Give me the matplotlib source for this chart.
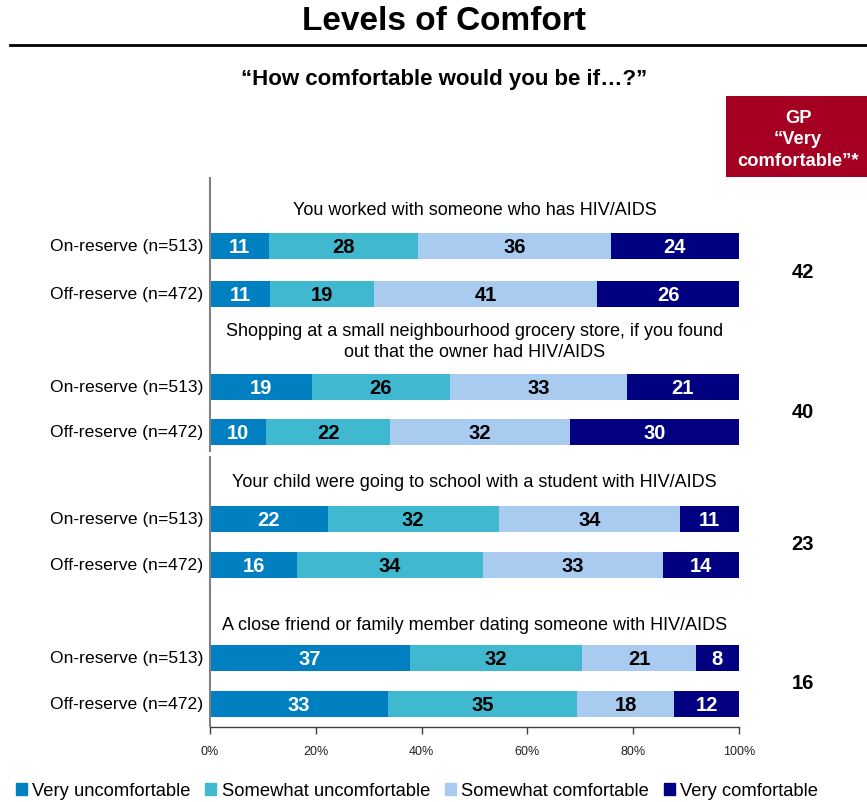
import matplotlib
matplotlib.use("Agg")
import matplotlib.pyplot as plt
import matplotlib.patches as mpatches
import numpy as np

plt.rcParams['font.family'] = ['Liberation Sans', 'DejaVu Sans']

categories = ["Very uncomfortable", "Somewhat uncomfortable", "Somewhat comfortable", "Very comfortable"]
colors = ["#0080C0", "#40B8D0", "#A8CBEF", "#000080"]
text_colors = ["white", "black", "black", "white"]

groups = [
    "You worked with someone who has HIV/AIDS",
    "Shopping at a small neighbourhood grocery store, if you found\nout that the owner had HIV/AIDS",
    "Your child were going to school with a student with HIV/AIDS",
    "A close friend or family member dating someone with HIV/AIDS",
]
row_labels = ["On-reserve (n=513)", "Off-reserve (n=472)"]

on_reserve = [
    [11, 28, 36, 24],
    [19, 26, 33, 21],
    [22, 32, 34, 11],
    [37, 32, 21, 8],
]
off_reserve = [
    [11, 19, 41, 26],
    [10, 22, 32, 30],
    [16, 34, 33, 14],
    [33, 35, 18, 12],
]
gp_very = [42, 40, 23, 16]
xticks = [0, 20, 40, 60, 80, 100]

# layout (pixel-based positions)
W, H = 867, 803
bar_y = [(247, 295), (388, 433), (520, 566), (659, 705)]
label_y = [211, 342, 483, 626]
bar_h = 26

fig = plt.figure(figsize=(W / 100, H / 100), dpi=100)
ax_l, ax_r, ax_t, ax_b = 210, 739, 178, 728
ax = fig.add_axes([ax_l / W, 1 - ax_b / H, (ax_r - ax_l) / W, (ax_b - ax_t) / H])
ax.set_xlim(0, 100)
ax.set_ylim(ax_b, ax_t)

for g in range(4):
    for r, vals in enumerate([on_reserve[g], off_reserve[g]]):
        y = bar_y[g][r]
        vals = np.array(vals, dtype=float)
        widths = vals / vals.sum() * 100
        left = 0
        for i, (v, w) in enumerate(zip(vals, widths)):
            ax.barh(y, w, left=left, height=bar_h, color=colors[i], edgecolor='none')
            ax.text(left + w / 2, y + 1, f"{int(v)}", ha='center', va='center',
                    fontsize=14.5, fontweight='bold', color=text_colors[i])
            left += w
        ax.text(-1.3, y, row_labels[r], ha='right', va='center', fontsize=12.6, color='black')
    ax.text(50, label_y[g], groups[g], ha='center', va='center', fontsize=13,
            color='black', linespacing=1.25)
    gy = (bar_y[g][0] + bar_y[g][1]) / 2 + 2
    ax.text(112, gy, f"{gp_very[g]}", ha='center', va='center', fontsize=14.5,
            fontweight='bold', color='black', clip_on=False)

for s in ['top', 'right', 'left']:
    ax.spines[s].set_visible(False)
ax.spines['bottom'].set_color('#404040')
ax.spines['bottom'].set_linewidth(1.0)
ax.vlines(0, ax_t, 453, color='#808080', lw=1.5, clip_on=False)
ax.vlines(0, 457, ax_b, color='#808080', lw=1.5, clip_on=False)
ax.set_yticks([])
ax.set_xticks(xticks)
ax.set_xticklabels([f"{t}%" for t in xticks], fontsize=9, color='#222222')
ax.tick_params(axis='x', direction='out', length=5, width=1, color='#404040', pad=8)

# titles
fig.text(444 / W, 1 - 21 / H, "Levels of Comfort", ha='center', va='center',
         fontsize=24, fontweight='bold')
fig.add_artist(plt.Line2D([10 / W, 1], [1 - 46 / H, 1 - 46 / H], color='black', lw=2))
fig.text(444 / W, 1 - 80 / H, "\u201cHow comfortable would you be if\u2026?\u201d", ha='center',
         va='center', fontsize=16, fontweight='bold')

# GP box
fig.add_artist(mpatches.Rectangle((726 / W, 1 - 178 / H), (W - 726) / W, 81 / H,
                                  transform=fig.transFigure, color='#A50021', lw=0))
fig.text(798 / W, 1 - 140 / H, "GP\n\u201cVery\ncomfortable\u201d*", ha='center', va='center',
         fontsize=13.2, fontweight='bold', color='white', linespacing=1.38)

# legend
handles = [mpatches.Patch(color=c, label=l) for c, l in zip(colors, categories)]
fig.legend(handles=handles, loc='center', bbox_to_anchor=(417 / W, 1 - 792 / H), ncol=4,
           frameon=False, fontsize=13.2, handlelength=0.6, handleheight=0.6,
           handletextpad=0.3, columnspacing=0.8, borderaxespad=0)

fig.savefig("out.png", dpi=100)
